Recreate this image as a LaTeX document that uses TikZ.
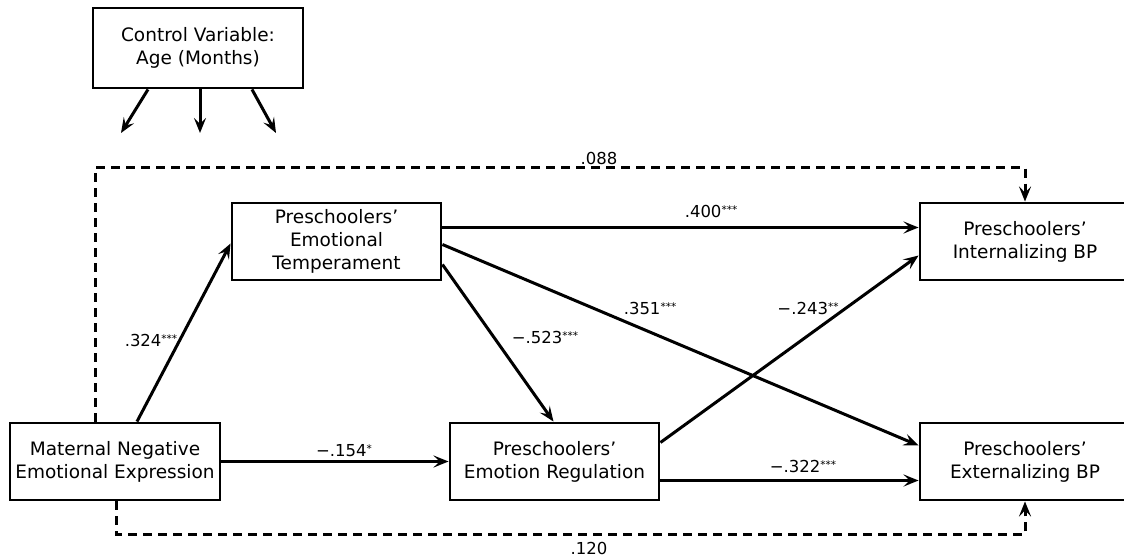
\documentclass[tikz,border=0pt]{standalone}
\usepackage{fontspec}
\setmainfont{DejaVu Sans}
\usetikzlibrary{arrows.meta,positioning,calc}

\newcommand{\sig}[1]{\raisebox{4pt}{\fontsize{10.5}{10.5}\selectfont #1}}

\begin{document}
\begin{tikzpicture}[x=1pt, y=-1pt,
    box/.style={draw, line width=2.9pt, minimum width=210pt, minimum height=77pt,
      inner sep=0pt, align=center, font=\fontsize{18.5}{23}\selectfont},
    arr/.style={line width=3pt, -{Stealth[length=15pt,width=12pt,inset=6pt]}},
    dpath/.style={arr, dash pattern=on 9pt off 6pt},
    lbl/.style={font=\fontsize{16.5}{18}\selectfont, inner sep=0pt}]
    \useasboundingbox (0,0) rectangle (1124,556);

    \node[box, minimum height=80pt] (ctrl) at (198,48) {Control Variable:\\Age (Months)};
    \node[box] (mat) at (115,461.5) {Maternal Negative\\Emotional Expression};
    \node[box, minimum width=209pt] (temp) at (336.5,241.5) {Preschoolers’\\Emotional\\Temperament};
    \node[box, minimum width=209pt] (reg) at (554.5,461.5) {Preschoolers’\\Emotion Regulation};
    \node[box] (intl) at (1025,241.5) {Preschoolers’\\Internalizing BP};
    \node[box] (extl) at (1025,461.5) {Preschoolers’\\Externalizing BP};

    % control arrows
    \coordinate (c1) at (121,133);
    \coordinate (c2) at (200,133);
    \coordinate (c3) at (276,133);
    \draw[arr] ([xshift=-50pt]ctrl.south) -- (c1);
    \draw[arr] ([xshift=2pt]ctrl.south) -- (c2);
    \draw[arr] ([xshift=54pt]ctrl.south) -- (c3);

    % paths
    \draw[arr] ([xshift=22pt]mat.north) -- ([yshift=-2pt]temp.west);
    \draw[arr] (mat.east) -- (reg.west);
    \draw[arr] ([yshift=-23pt]temp.east) -- ([xshift=-1pt]reg.north);
    \draw[arr] ([yshift=14pt]temp.east) -- ([yshift=14pt]intl.west);
    \draw[arr] ([yshift=-3pt]temp.east) -- ([yshift=16pt]extl.west);
    \draw[arr] ([yshift=19pt]reg.east) -- ([yshift=-14pt]intl.west);
    \draw[arr] ([yshift=-19pt]reg.east) -- ([yshift=-19pt]extl.west);
    \draw[dpath] ([xshift=-20pt]mat.north) -- ++(0,-254) -| (intl.north);
    \draw[dpath] ([xshift=1pt]mat.south) -- ++(0,33) -| (extl.south);

    \node[lbl] (l1) at (151,340) {.324\sig{***}};
    \node[lbl] (l2) at (344,451) {−.154\sig{*}};
    \node[lbl] (l3) at (545,337) {−.523\sig{***}};
    \node[lbl] (l4) at (711,211) {.400\sig{***}};
    \node[lbl] (l5) at (650,308) {.351\sig{***}};
    \node[lbl] (l6) at (808,308) {−.243\sig{**}};
    \node[lbl] (l7) at (803,466) {−.322\sig{***}};
    \node[lbl] (l8) at (599,158) {.088};
    \node[lbl] (l9) at (589,548) {.120};
\end{tikzpicture}
\end{document}
